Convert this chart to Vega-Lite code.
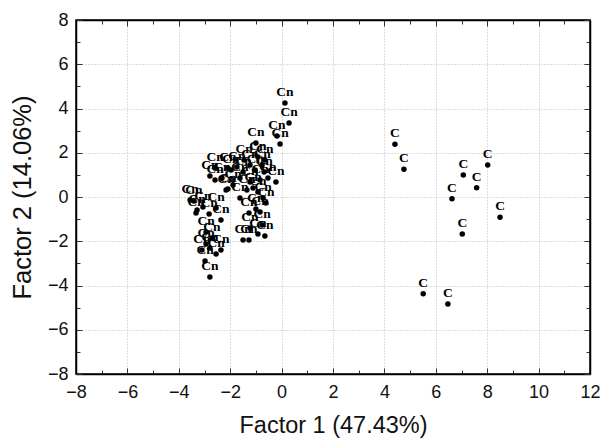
{
  "$schema": "https://vega.github.io/schema/vega-lite/v6.json",
  "width": 514,
  "height": 354,
  "autosize": {"type": "none"},
  "padding": {"left": 76, "top": 20, "right": 10, "bottom": 66},
  "background": "white",
  "config": {
    "view": {"stroke": "black", "strokeWidth": 1.5},
    "axis": {
      "labelFont": "Liberation Sans",
      "labelFontSize": 18,
      "labelColor": "#111",
      "titleFont": "Liberation Sans",
      "titleFontWeight": "normal",
      "titleColor": "#111",
      "domainColor": "black",
      "domainWidth": 1.5,
      "tickColor": "#333",
      "tickWidth": 1,
      "gridColor": "#bbbbbb",
      "gridDash": [1, 2],
      "gridWidth": 1
    }
  },
  "data": {
    "values": [
      {"f1": 0.13, "f2": 4.25, "grp": "Cn"},
      {"f1": 0.29, "f2": 3.34, "grp": "Cn"},
      {"f1": -0.18, "f2": 2.76, "grp": "Cn"},
      {"f1": -0.06, "f2": 2.4, "grp": "Cn"},
      {"f1": -1.0, "f2": 2.44, "grp": "Cn"},
      {"f1": -0.92, "f2": 1.81, "grp": "Cn"},
      {"f1": -0.76, "f2": 1.45, "grp": "Cn"},
      {"f1": -0.22, "f2": 0.68, "grp": "Cn"},
      {"f1": -2.59, "f2": 1.31, "grp": "Cn"},
      {"f1": -2.79, "f2": 0.95, "grp": "Cn"},
      {"f1": -2.09, "f2": 1.31, "grp": "Cn"},
      {"f1": -1.74, "f2": 1.36, "grp": "Cn"},
      {"f1": -1.5, "f2": 1.13, "grp": "Cn"},
      {"f1": -1.23, "f2": 1.45, "grp": "Cn"},
      {"f1": -1.03, "f2": 1.22, "grp": "Cn"},
      {"f1": -0.68, "f2": 1.13, "grp": "Cn"},
      {"f1": -0.53, "f2": 0.86, "grp": "Cn"},
      {"f1": -0.84, "f2": 0.77, "grp": "Cn"},
      {"f1": -1.23, "f2": 0.68, "grp": "Cn"},
      {"f1": -1.62, "f2": 0.86, "grp": "Cn"},
      {"f1": -1.89, "f2": 0.54, "grp": "Cn"},
      {"f1": -2.16, "f2": 0.32, "grp": "Cn"},
      {"f1": -2.59, "f2": 0.77, "grp": "Cn"},
      {"f1": -2.32, "f2": 0.86, "grp": "Cn"},
      {"f1": -2.09, "f2": 0.36, "grp": "Cn"},
      {"f1": -1.35, "f2": 0.32, "grp": "Cn"},
      {"f1": -1.11, "f2": 0.41, "grp": "Cn"},
      {"f1": -0.92, "f2": 0.23, "grp": "Cn"},
      {"f1": -0.72, "f2": -0.05, "grp": "Cn"},
      {"f1": -0.61, "f2": -0.27, "grp": "Cn"},
      {"f1": -1.62, "f2": -0.05, "grp": "Cn"},
      {"f1": -1.0, "f2": -0.54, "grp": "Cn"},
      {"f1": -1.97, "f2": 1.22, "grp": "Cn"},
      {"f1": -1.46, "f2": 1.67, "grp": "Cn"},
      {"f1": -0.65, "f2": 1.67, "grp": "Cn"},
      {"f1": -3.56, "f2": -0.14, "grp": "Cn"},
      {"f1": -3.41, "f2": -0.18, "grp": "Cn"},
      {"f1": -3.29, "f2": -0.59, "grp": "Cn"},
      {"f1": -3.06, "f2": -0.45, "grp": "Cn"},
      {"f1": -3.33, "f2": -0.72, "grp": "Cn"},
      {"f1": -2.36, "f2": -1.04, "grp": "Cn"},
      {"f1": -2.94, "f2": -1.58, "grp": "Cn"},
      {"f1": -2.55, "f2": -0.5, "grp": "Cn"},
      {"f1": -2.82, "f2": -0.77, "grp": "Cn"},
      {"f1": -2.94, "f2": -2.12, "grp": "Cn"},
      {"f1": -2.71, "f2": -1.85, "grp": "Cn"},
      {"f1": -2.79, "f2": -2.31, "grp": "Cn"},
      {"f1": -2.55, "f2": -2.58, "grp": "Cn"},
      {"f1": -2.36, "f2": -2.4, "grp": "Cn"},
      {"f1": -2.98, "f2": -2.89, "grp": "Cn"},
      {"f1": -2.79, "f2": -3.62, "grp": "Cn"},
      {"f1": -3.1, "f2": -2.4, "grp": "Cn"},
      {"f1": -1.27, "f2": -0.72, "grp": "Cn"},
      {"f1": -0.84, "f2": -0.68, "grp": "Cn"},
      {"f1": -1.23, "f2": -1.4, "grp": "Cn"},
      {"f1": -0.92, "f2": -1.67, "grp": "Cn"},
      {"f1": -0.65, "f2": -1.76, "grp": "Cn"},
      {"f1": -1.5, "f2": -1.94, "grp": "Cn"},
      {"f1": -1.27, "f2": -1.94, "grp": "Cn"},
      {"f1": -0.76, "f2": -1.27, "grp": "Cn"},
      {"f1": 4.41, "f2": 2.38, "grp": "C"},
      {"f1": 4.76, "f2": 1.25, "grp": "C"},
      {"f1": 7.07, "f2": 0.99, "grp": "C"},
      {"f1": 8.02, "f2": 1.45, "grp": "C"},
      {"f1": 7.59, "f2": 0.42, "grp": "C"},
      {"f1": 6.63, "f2": -0.08, "grp": "C"},
      {"f1": 8.5, "f2": -0.92, "grp": "C"},
      {"f1": 7.03, "f2": -1.67, "grp": "C"},
      {"f1": 5.51, "f2": -4.37, "grp": "C"},
      {"f1": 6.47, "f2": -4.84, "grp": "C"}
    ]
  },
  "layer": [
    {
      "mark": {"type": "point", "filled": true, "color": "black", "size": 30, "opacity": 1},
      "encoding": {
        "x": {
          "field": "f1", "type": "quantitative",
          "scale": {"domain": [-8, 12], "nice": false, "zero": false},
          "axis": {
            "orient": "bottom",
            "title": "Factor 1 (47.43%)",
            "titleFontSize": 23.5,
            "values": [-8,-7,-6,-5,-4,-3,-2,-1,0,1,2,3,4,5,6,7,8,9,10,11,12],
            "labelExpr": "datum.value % 2 === 0 ? datum.label : ''",
            "tickSize": {"condition": {"test": "datum.value % 2 === 0", "value": -6}, "value": -4},
            "gridOpacity": {"condition": {"test": "datum.value % 2 === 0", "value": 1}, "value": 0},
            "grid": true,
            "labelPadding": 15,
            "titlePadding": 10,
            "labelFlush": false,
            "labelOverlap": false
          }
        },
        "y": {
          "field": "f2", "type": "quantitative",
          "scale": {"domain": [-8, 8], "nice": false, "zero": false},
          "axis": {
            "orient": "left",
            "title": "Factor 2 (14.06%)",
            "titleFontSize": 25.5,
            "values": [-8,-7,-6,-5,-4,-3,-2,-1,0,1,2,3,4,5,6,7,8],
            "labelExpr": "datum.value % 2 === 0 ? datum.label : ''",
            "tickSize": {"condition": {"test": "datum.value % 2 === 0", "value": -6}, "value": -4},
            "gridOpacity": {"condition": {"test": "datum.value % 2 === 0", "value": 1}, "value": 0},
            "grid": true,
            "labelPadding": 14,
            "titlePadding": 12,
            "labelFlush": false,
            "labelOverlap": false
          }
        }
      }
    },
    {
      "mark": {"type": "text", "font": "Liberation Serif", "fontWeight": "bold", "fontSize": 13.5, "dy": -11, "color": "black"},
      "encoding": {
        "x": {
          "field": "f1", "type": "quantitative",
          "scale": {"domain": [-8, 12], "nice": false, "zero": false},
          "axis": {
            "orient": "top",
            "title": null,
            "labels": false,
            "grid": false,
            "values": [-8,-7,-6,-5,-4,-3,-2,-1,0,1,2,3,4,5,6,7,8,9,10,11,12],
            "tickSize": {"condition": {"test": "datum.value % 2 === 0", "value": -6}, "value": -4}
          }
        },
        "y": {
          "field": "f2", "type": "quantitative",
          "scale": {"domain": [-8, 8], "nice": false, "zero": false},
          "axis": {
            "orient": "right",
            "title": null,
            "labels": false,
            "grid": false,
            "values": [-8,-7,-6,-5,-4,-3,-2,-1,0,1,2,3,4,5,6,7,8],
            "tickSize": {"condition": {"test": "datum.value % 2 === 0", "value": -6}, "value": -4}
          }
        },
        "text": {"field": "grp"}
      }
    }
  ],
  "resolve": {"axis": {"x": "independent", "y": "independent"}}
}
